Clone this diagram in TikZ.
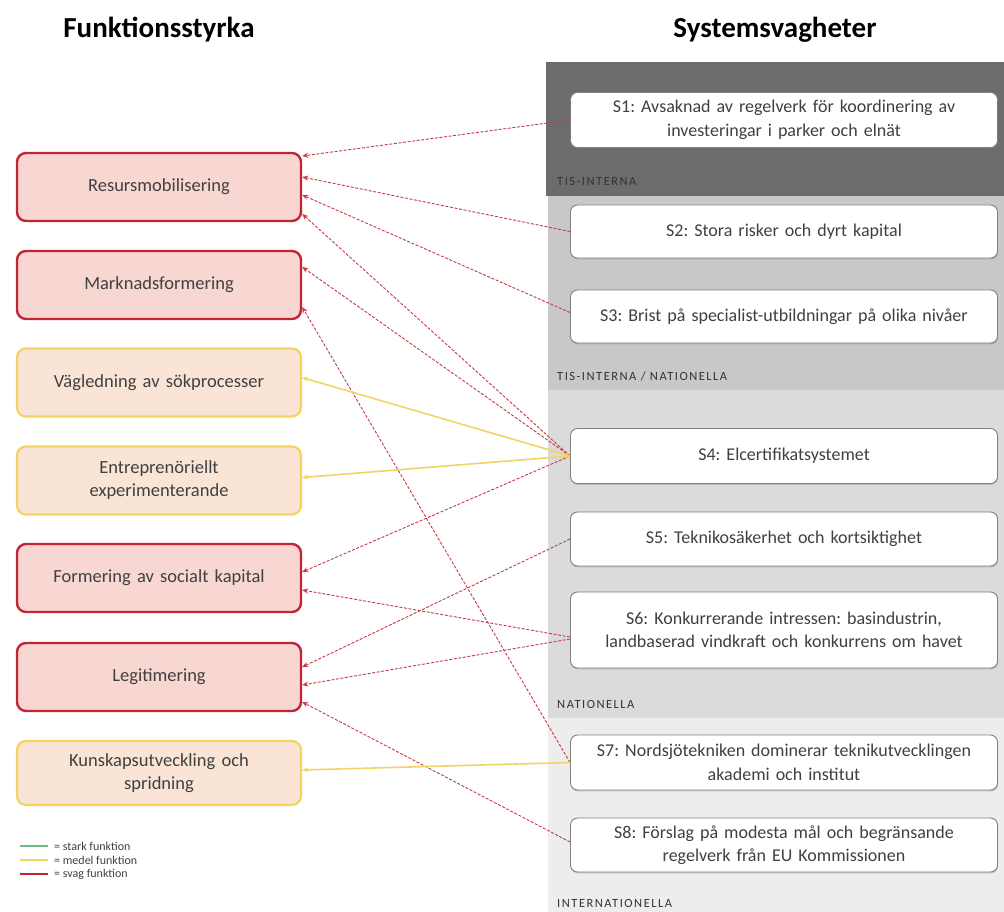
\documentclass[tikz,border=0pt]{standalone}
\usepackage{fontspec}
\setmainfont{Carlito}
\usetikzlibrary{arrows.meta,calc,shadows}
\frenchspacing

\definecolor{weakred}{RGB}{196,36,52}
\definecolor{weakfill}{RGB}{248,214,210}
\definecolor{medyel}{RGB}{244,212,96}
\definecolor{medfill}{RGB}{250,228,214}
\definecolor{linkred}{RGB}{196,58,70}
\definecolor{linkyel}{RGB}{242,212,100}
\definecolor{darkband}{RGB}{108,108,108}
\definecolor{midband}{RGB}{200,200,200}
\definecolor{lightband}{RGB}{219,219,219}
\definecolor{palest}{RGB}{237,237,237}
\definecolor{txt}{RGB}{64,64,64}
\definecolor{stark}{RGB}{110,184,140}

\tikzset{
  fbase/.style={rounded corners=9pt, minimum width=284pt, minimum height=68pt,
    align=center, text width=262pt, inner sep=0pt, text=txt,
    font=\fontsize{18.5}{23}\selectfont},
  weakfn/.style={fbase, draw=weakred, line width=2.4pt, fill=weakfill},
  medfn/.style={fbase, draw=medyel, line width=2.2pt, fill=medfill},
  sysbox/.style={draw=black!50, line width=0.9pt, fill=white, rounded corners=7pt,
    minimum width=427pt, minimum height=55pt, align=center, text width=412pt,
    inner sep=0pt, text=txt, font=\fontsize{18}{23.5}\selectfont,
    drop shadow={shadow xshift=0.6pt, shadow yshift=-1.4pt, opacity=0.35}},
  bandlabel/.style={anchor=west, inner sep=0pt, text=black!80,
    font=\fontsize{12.5}{13}\selectfont\addfontfeature{LetterSpace=12}},
  heading/.style={inner sep=0pt, font=\fontsize{29}{31}\selectfont\bfseries},
  weaklink/.style={draw=linkred, line width=0.9pt, dash pattern=on 3pt off 1.6pt,
    -{Stealth[length=6pt,width=5pt]}},
  medlink/.style={draw=linkyel, line width=1.6pt, -{Stealth[length=6pt,width=5pt]}},
  legtext/.style={anchor=west, inner sep=0pt, text=txt, font=\fontsize{12}{13}\selectfont}
}

\begin{document}
\begin{tikzpicture}[x=1pt,y=-1pt]
\useasboundingbox (0,0) rectangle (1004,912);

% background bands of the weakness column
\fill[darkband] (546,62) rectangle (1004,196);
\fill[midband] (548,196) rectangle (1004,390);
\fill[lightband] (548,390) rectangle (1004,718);
\fill[palest] (548,718) rectangle (1004,912);

\node[bandlabel] (b1) at (557,181) {TIS-INTERNA};
\node[bandlabel] (b2) at (557,376) {TIS-INTERNA / NATIONELLA};
\node[bandlabel] (b3) at (557,704) {NATIONELLA};
\node[bandlabel] (b4) at (557,903) {INTERNATIONELLA};

% headings
\node[heading] (h1) at (159,30) {Funktionsstyrka};
\node[heading] (h2) at (775,30) {Systemsvagheter};

% functions
\node[weakfn] (f1) at (159,187) {Resursmobilisering};
\node[weakfn] (f2) at (159,285) {Marknadsformering};
\node[medfn]  (f3) at (159,382.5) {Vägledning av sökprocesser};
\node[medfn]  (f4) at (159,480.5) {Entreprenöriellt\\experimenterande};
\node[weakfn] (f5) at (159,578) {Formering av socialt kapital};
\node[weakfn] (f6) at (159,677) {Legitimering};
\node[medfn, minimum height=64pt] (f7) at (159,773) {Kunskapsutveckling och\\spridning};

% system weaknesses
\node[sysbox] (s1) at (784,120) {S1: Avsaknad av regelverk för koordinering av\\investeringar i parker och elnät};
\node[sysbox, minimum height=53pt] (s2) at (784,231.5) {S2: Stora risker och dyrt kapital};
\node[sysbox, minimum height=53pt] (s3) at (784,316.5) {S3: Brist på specialist-utbildningar på olika nivåer};
\node[sysbox] (s4) at (784,456) {S4: Elcertifikatsystemet};
\node[sysbox, minimum height=54pt] (s5) at (784,539) {S5: Teknikosäkerhet och kortsiktighet};
\node[sysbox, minimum height=76pt] (s6) at (784,630) {S6: Konkurrerande intressen: basindustrin,\\landbaserad vindkraft och konkurrens om havet};
\node[sysbox] (s7) at (784,762.5) {S7: Nordsjötekniken dominerar teknikutvecklingen\\akademi och institut};
\node[sysbox, minimum height=54pt] (s8) at (784,845) {S8: Förslag på modesta mål och begränsande\\regelverk från EU Kommissionen};

% links: weak functions (dashed red)
\draw[weaklink] (s1.west) -- ($(f1.east)+(0,-31)$);
\draw[weaklink] (s2.west) -- ($(f1.east)+(0,-10)$);
\draw[weaklink] ($(s3.west)+(0,-4)$) -- ($(f1.east)+(0,8)$);
\draw[weaklink] (s4.west) -- ($(f1.east)+(0,27)$);
\draw[weaklink] (s4.west) -- ($(f2.east)+(0,-18)$);
\draw[weaklink] (s7.west) -- ($(f2.east)+(0,22)$);
\draw[weaklink] (s4.west) -- ($(f5.east)+(0,-6)$);
\draw[weaklink] ($(s6.west)+(0,7)$) -- ($(f5.east)+(0,12)$);
\draw[weaklink] (s5.west) -- ($(f6.east)+(0,-10)$);
\draw[weaklink] ($(s6.west)+(0,9)$) -- ($(f6.east)+(0,8)$);
\draw[weaklink] ($(s8.west)+(0,-3)$) -- ($(f6.east)+(0,25)$);

% links: medium functions (solid yellow)
\draw[medlink] (s4.west) -- ($(f3.east)+(0,-5)$);
\draw[medlink] (s4.west) -- ($(f4.east)+(0,-3)$);
\draw[medlink] (s7.west) -- ($(f7.east)+(0,-3)$);

% legend
\draw[stark, line width=2pt] (20,846) -- (48,846);
\draw[medyel, line width=2pt] (20,860) -- (48,860);
\draw[weakred, line width=2pt] (20,874) -- (48,874);
\node[legtext] (l1) at (54,846) {= stark funktion};
\node[legtext] (l2) at (54,860) {= medel funktion};
\node[legtext] (l3) at (54,874) {= svag funktion};
\end{tikzpicture}
\end{document}
